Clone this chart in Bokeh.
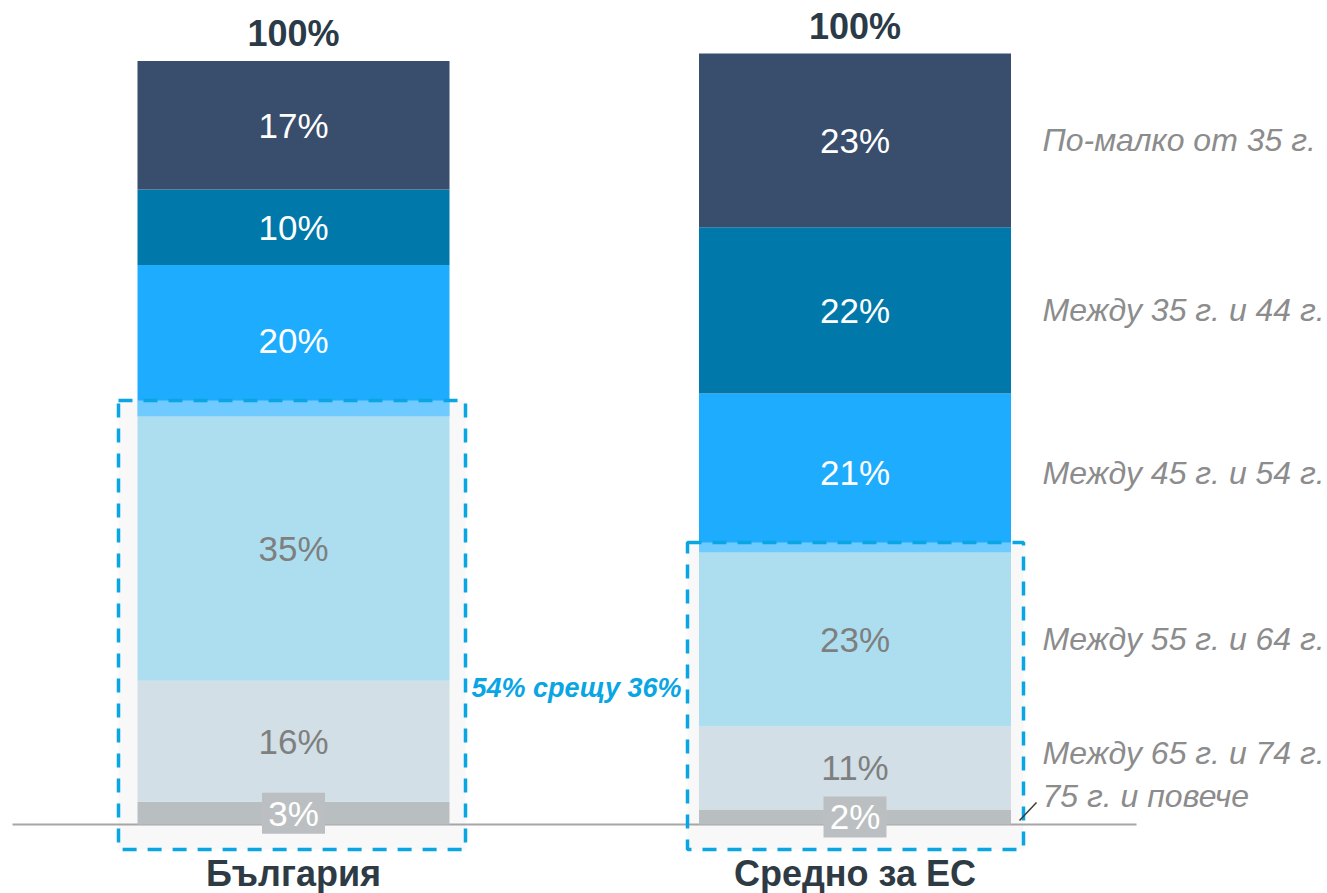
from bokeh.plotting import figure
from bokeh.models import Range1d
from bokeh.core.properties import value
from bokeh.embed import file_html
from bokeh.resources import INLINE
import numpy as np

# ---------------- data ----------------
categories = ["България", "Средно за ЕС"]
age_groups = ["По-малко от 35 г.", "Между 35 г. и 44 г.", "Между 45 г. и 54 г.",
              "Между 55 г. и 64 г.", "Между 65 г. и 74 г.", "75 г. и повече"]
bulgaria = [17, 10, 20, 35, 16, 3]   # youngest -> oldest
eu_avg = [23, 22, 21, 23, 11, 2]
total_labels = ["100%", "100%"]
highlight_groups = [3, 4, 5]          # indices of 55+ groups
highlight_text = "54% срещу 36%"

# ---------------- style / layout ----------------
colors = ["#394D6D", "#0079AA", "#1EACFF", "#ADDEEF", "#D2DFE6", "#B9BEC1"]
text_colors = ["#FFFFFF", "#FFFFFF", "#FFFFFF", "#7F7F7F", "#7F7F7F", "#FFFFFF"]
FONT = "Liberation Sans"
W, H = 1327, 893
S = 7.56                     # px per percentage point
BASE_PY = 824                # picture y of baseline


def vy(py):
    return (BASE_PY - py) / S


x_centers = [293, 854.5]
bar_w = 312
box_lr = [(118, 465), (687, 1023)]
box_top_pad = [2.1, 1.3]
box_bottom = vy(849)
right_label_x = 1042
right_label_lift = [0, 0, 0, 0, 15 / S, 21 / S]

p = figure(width=W, height=H, output_backend="svg", toolbar_location=None,
           x_range=Range1d(0, W), y_range=Range1d(vy(H), vy(0)),
           min_border=0, outline_line_color=None)
p.axis.visible = False
p.grid.visible = False
p.background_fill_color = "white"
p.border_fill_color = "white"

series = [bulgaria, eu_avg]

# highlight box fills
for k, vals in enumerate(series):
    grp = sum(vals[i] for i in highlight_groups)
    l, r = box_lr[k]
    p.quad(left=[l], right=[r], bottom=[box_bottom], top=[grp + box_top_pad[k]],
           fill_color="#F8F8F8", line_color=None)

# baseline
p.line(x=[12, 1136], y=[0, 0], line_color="#A6A6A6", line_width=2)

# stacked bars
for k, vals in enumerate(series):
    arr = np.array(vals[::-1], dtype=float)          # oldest at bottom
    tops = np.cumsum(arr)
    bottoms = tops - arr
    cols = colors[::-1]
    tcols = text_colors[::-1]
    for j in range(len(arr)):
        p.vbar(x=[x_centers[k]], width=bar_w, bottom=[bottoms[j]], top=[tops[j]],
               fill_color=cols[j], line_color=None)
    # highlight veil above 55+ group inside the box
    grp = sum(vals[i] for i in highlight_groups)
    p.quad(left=[x_centers[k] - bar_w / 2], right=[x_centers[k] + bar_w / 2],
           bottom=[grp], top=[grp + box_top_pad[k]],
           fill_color="white", fill_alpha=0.36, line_color=None)
    # segment labels
    for j in range(len(arr)):
        yc = bottoms[j] + arr[j] / 2
        if j == 0:
            p.rect(x=[x_centers[k]], y=[yc], width=63, height=41,
                   width_units="screen", height_units="screen",
                   fill_color="#BBBFC1", line_color=None)
        p.text(x=[x_centers[k]], y=[yc], text=[f"{int(arr[j])}%"],
               text_font=value(FONT), text_font_size="35px",
               text_color=tcols[j], text_align="center", text_baseline="middle")
    # total label
    p.text(x=[x_centers[k]], y=[tops[-1] + 27 / S], text=[total_labels[k]],
           text_font=value(FONT), text_font_size="36px", text_font_style="bold",
           text_color="#2B3A47", text_align="center", text_baseline="middle")
    # category label
    p.text(x=[x_centers[k]], y=[vy(873)], text=[categories[k]],
           text_font=value(FONT), text_font_size="36px", text_font_style="bold",
           text_color="#2E3B45", text_align="center", text_baseline="middle")

# dashed highlight boxes
for k, vals in enumerate(series):
    grp = sum(vals[i] for i in highlight_groups)
    l, r = box_lr[k]
    p.quad(left=[l], right=[r], bottom=[box_bottom], top=[grp + box_top_pad[k]],
           fill_color=None, line_color="#0AA5E3", line_width=3.5, line_dash="14 11")

# comparison text
p.text(x=[576], y=[vy(687)], text=[highlight_text], text_font=value(FONT),
       text_font_size="27px", text_font_style="bold italic", text_color="#0AA5E3",
       text_align="center", text_baseline="middle")

# right-side series labels (aligned with EU segments)
eu_arr = np.array(eu_avg, dtype=float)
eu_tops = sum(eu_avg) - np.concatenate([[0], np.cumsum(eu_arr)[:-1]])
eu_centers = eu_tops - eu_arr / 2
for i, name in enumerate(age_groups):
    p.text(x=[right_label_x], y=[eu_centers[i] + right_label_lift[i]], text=[name],
           text_font=value(FONT), text_font_size="32px", text_font_style="italic",
           text_color="#8C8C8C", text_align="left", text_baseline="middle")

# leader line for the smallest group
p.line(x=[1019, 1036], y=[vy(820), vy(802)], line_color="#3A3A3A", line_width=1.5)

open("out.html", "w").write(file_html(p, INLINE))
